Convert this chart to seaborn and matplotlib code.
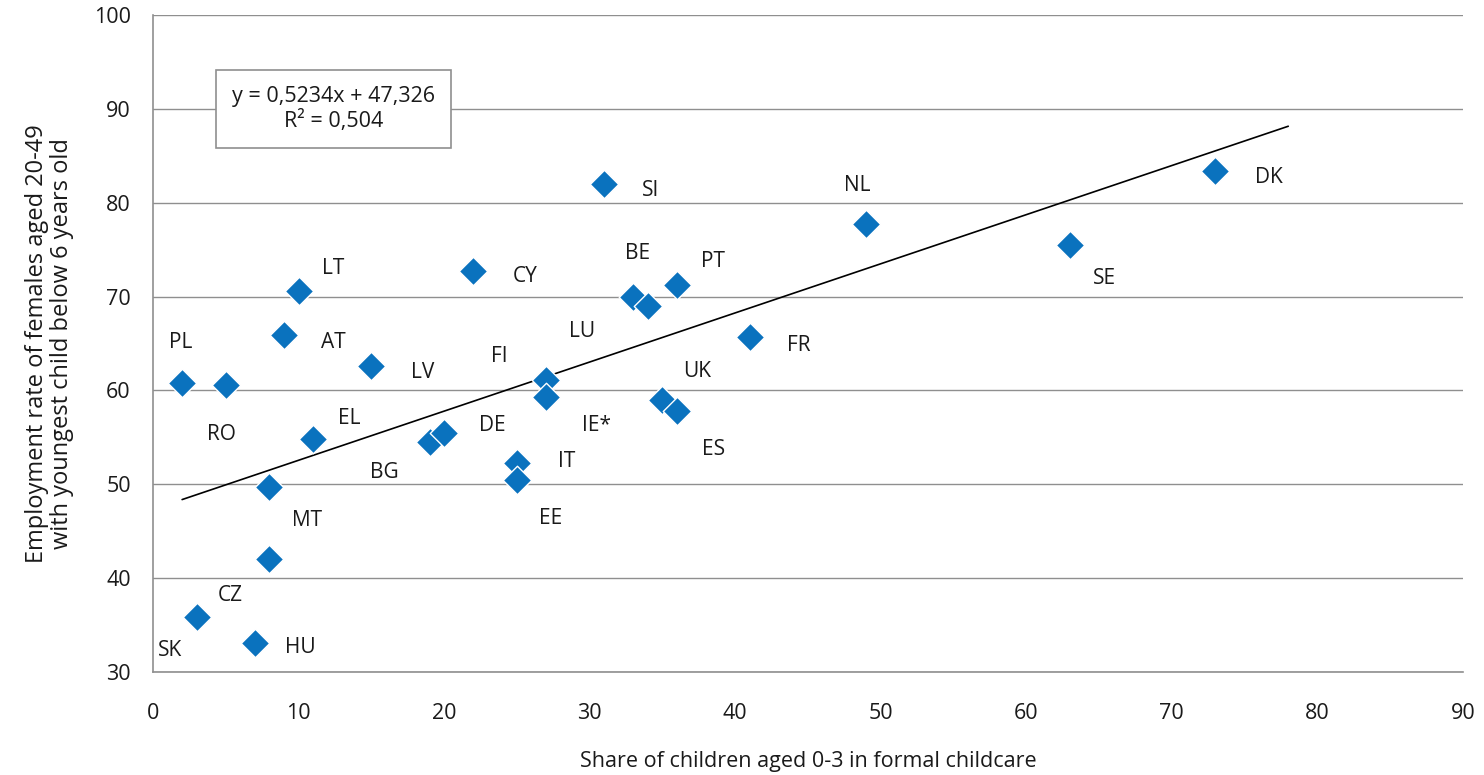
import pandas as pd
import matplotlib.pyplot as plt
import seaborn as sns

# childcare share (x) vs employment rate of mothers (y)
countries = ["DK", "SE", "NL", "SI", "CY", "LT", "AT", "PL", "RO", "LV", "EL", "MT",
             "CZ", "SK", "HU", "BG", "DE", "FI", "IE*", "IT", "EE", "BE", "LU", "PT",
             "FR", "UK", "ES"]
childcare = [73, 63, 49, 31, 22, 10, 9, 2, 5, 15, 11, 8,
             8, 3, 7, 19, 20, 27, 27, 25, 25, 33, 34, 36,
             41, 35, 36]
employment = [83.4, 75.5, 77.7, 82.0, 72.7, 70.6, 65.9, 60.8, 60.6, 62.6, 54.8, 49.7,
              42.0, 35.9, 33.1, 54.5, 55.5, 61.1, 59.3, 52.3, 50.5, 70.0, 69.0, 71.2,
              65.7, 59.0, 57.8]

# fitted line as printed on the chart
slope, intercept = 0.5234, 47.326
fit_x = [2, 78]

# where each country label sits (data coords)
label_pos = {
    "DK": (76.7, 82.7), "SE": (65.4, 71.9), "NL": (48.4, 81.8), "SI": (34.2, 81.3),
    "CY": (25.6, 72.1), "LT": (12.4, 73.0), "AT": (12.4, 65.1), "PL": (1.9, 65.1),
    "RO": (4.7, 55.3), "LV": (18.5, 61.9), "EL": (13.5, 57.0), "MT": (10.6, 46.1),
    "CZ": (5.3, 38.1), "SK": (1.2, 32.3), "HU": (10.1, 32.6), "BG": (15.9, 51.3),
    "DE": (23.3, 56.3), "FI": (23.8, 63.6), "IE*": (30.5, 56.3), "IT": (28.4, 52.4),
    "EE": (27.3, 46.4), "BE": (33.3, 74.6), "LU": (29.5, 66.3), "PT": (38.5, 73.7),
    "FR": (44.4, 64.8), "UK": (37.4, 62.0), "ES": (38.5, 53.7),
}

df = pd.DataFrame({"country": countries, "x": childcare, "y": employment})
fit = pd.DataFrame({"x": fit_x, "y": [slope * v + intercept for v in fit_x]})

sns.set_style("white")
plt.rcParams['font.family'] = ['Open Sans', 'DejaVu Sans']
grey = "#8f8f8f"
txt = "#1a1a1a"

fig = plt.figure(figsize=(14.84, 7.75), dpi=100)
ax = fig.add_axes([0.1031, 0.1329, 0.8827, 0.8477])

ax.set_axisbelow(True)
ax.yaxis.grid(True, color=grey, linewidth=1)

sns.lineplot(data=fit, x="x", y="y", ax=ax, color="black", linewidth=1.2)
sns.scatterplot(data=df, x="x", y="y", ax=ax, marker="D", s=210,
                color="#0A72BE", edgecolor="white", linewidth=1, zorder=3)

for c in countries:
    lx, ly = label_pos[c]
    ax.text(lx, ly, c, ha="center", va="center", fontsize=15, color=txt)

ax.text(0.138, 0.857, "y = 0,5234x + 47,326\nR² = 0,504", transform=ax.transAxes,
        ha="center", va="center", fontsize=15.5, color=txt, linespacing=1.2,
        bbox=dict(boxstyle="square,pad=0.75", facecolor="white", edgecolor=grey, linewidth=1.2))

ax.set_xlim(0, 90)
ax.set_ylim(30, 100)
ax.set_xticks(range(0, 91, 10))
ax.set_yticks(range(30, 101, 10))
ax.tick_params(axis="x", direction="in", length=14, color=grey, labelsize=15.5,
               labelcolor=txt, pad=22)
ax.tick_params(axis="y", length=0, labelsize=15.5, labelcolor=txt, pad=16)

sns.despine(ax=ax)
for s in ["left", "bottom"]:
    ax.spines[s].set_color(grey)
    ax.spines[s].set_linewidth(1.2)

ax.set_xlabel("Share of children aged 0-3 in formal childcare", fontsize=15.5, color=txt, labelpad=20)
ax.set_ylabel("Employment rate of females aged 20-49\nwith youngest child below 6 years old",
              fontsize=17, color=txt, labelpad=14, linespacing=1.1)

fig.savefig("out.png", dpi=100)
